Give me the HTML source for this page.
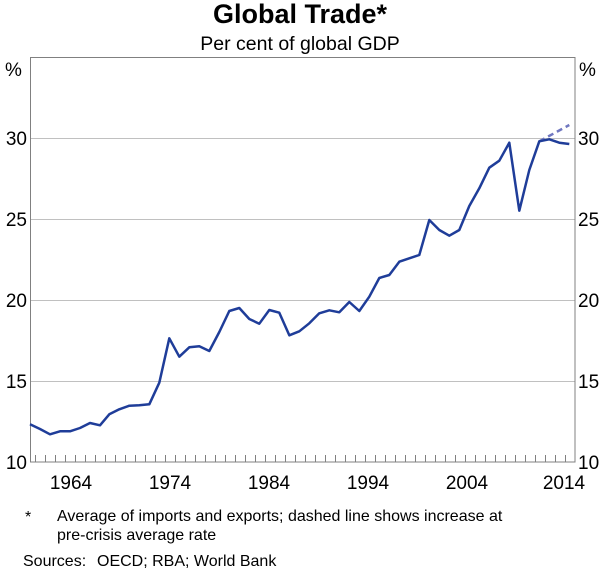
<!DOCTYPE html>
<html><head><meta charset="utf-8"><style>
body{margin:0;background:#fff;}
svg text{font-family:"Liberation Sans",Arial,sans-serif;fill:#000;}
</style></head><body>
<svg width="600" height="569" xmlns="http://www.w3.org/2000/svg">
<text x="300" y="23" font-size="27" font-weight="bold" text-anchor="middle">Global Trade*</text>
<text x="300" y="50" font-size="19.5" text-anchor="middle">Per cent of global GDP</text>
<g stroke="#c0c0c0" stroke-width="1">
<line x1="30" x2="575" y1="138.5" y2="138.5"/>
<line x1="30" x2="575" y1="219.5" y2="219.5"/>
<line x1="30" x2="575" y1="300.5" y2="300.5"/>
<line x1="30" x2="575" y1="381.5" y2="381.5"/>
</g>
<rect x="30.5" y="57.5" width="544.5" height="404.5" fill="none" stroke="#808080" stroke-width="1"/>
<path stroke="#808080" stroke-width="1" fill="none" d="M35.5 455V462M45.5 455V462M55.5 455V462M65.5 455V462M75.5 455V462M85.5 455V462M95.5 455V462M105.5 455V462M115.5 455V462M125.5 455V462M135.5 455V462M145.5 455V462M155.5 455V462M165.5 455V462M175.5 455V462M185.5 455V462M195.5 455V462M205.5 455V462M215.5 455V462M225.5 455V462M235.5 455V462M245.5 455V462M255.5 455V462M265.5 455V462M275.5 455V462M285.5 455V462M295.5 455V462M305.5 455V462M315.5 455V462M325.5 455V462M335.5 455V462M345.5 455V462M355.5 455V462M365.5 455V462M375.5 455V462M385.5 455V462M395.5 455V462M405.5 455V462M415.5 455V462M425.5 455V462M435.5 455V462M445.5 455V462M455.5 455V462M465.5 455V462M475.5 455V462M485.5 455V462M495.5 455V462M505.5 455V462M515.5 455V462M525.5 455V462M535.5 455V462M545.5 455V462M555.5 455V462M565.5 455V462"/>
<g font-size="19">
<text x="5" y="76">%</text><text x="579" y="76">%</text>
<g text-anchor="end"><text x="27" y="145">30</text><text x="27" y="226">25</text><text x="27" y="307">20</text><text x="27" y="388">15</text><text x="27" y="469">10</text></g>
<g text-anchor="start"><text x="578" y="145">30</text><text x="578" y="226">25</text><text x="578" y="307">20</text><text x="578" y="388">15</text><text x="578" y="469">10</text></g>
<g text-anchor="middle"><text x="71" y="489">1964</text><text x="170" y="489">1974</text><text x="269" y="489">1984</text><text x="368" y="489">1994</text><text x="467" y="489">2004</text><text x="564" y="489">2014</text></g>
</g>
<line x1="539.3" y1="141.3" x2="569.3" y2="125" stroke="#7077c0" stroke-width="2.5" stroke-dasharray="6,4"/>
<polyline fill="none" stroke="#1f3d99" stroke-width="2.5" stroke-linejoin="round" points="30,424.3 40,429 50,434.3 60,431.3 70,431.3 80,428 90,423 100,425.3 109.3,414.3 119.3,409.3 129.3,405.7 139.3,405.3 149.3,404.3 159.3,382.7 169.3,338.3 179.3,356.7 189.3,347.3 199.3,346.3 209.3,351 219.3,332 229.3,311 239.3,308 249.3,319 259.3,323.7 269.3,310 279.3,312.7 289.3,335.3 299.3,331.3 309.3,323.3 319.3,313.3 329.3,310.3 339.3,312.3 349.3,302 359.3,311 369.3,296.7 379.3,278 389.3,275 399.3,261.7 409.3,258.3 419.3,255 429.3,220 439.3,230 449.3,235.7 459.3,230 469.3,206 479.3,188.3 489.3,167.7 499.3,160.7 509.3,142.7 519.3,210.7 529.3,170 539.3,141.3 549.3,139.3 559.3,142.7 569.3,144"/>
<g font-size="16">
<text x="25" y="522">*</text>
<text x="57" y="521">Average of imports and exports; dashed line shows increase at</text>
<text x="57" y="540">pre-crisis average rate</text>
<text x="23" y="566">Sources:</text><text x="97" y="566">OECD; RBA; World Bank</text>
</g>
</svg>
</body></html>
